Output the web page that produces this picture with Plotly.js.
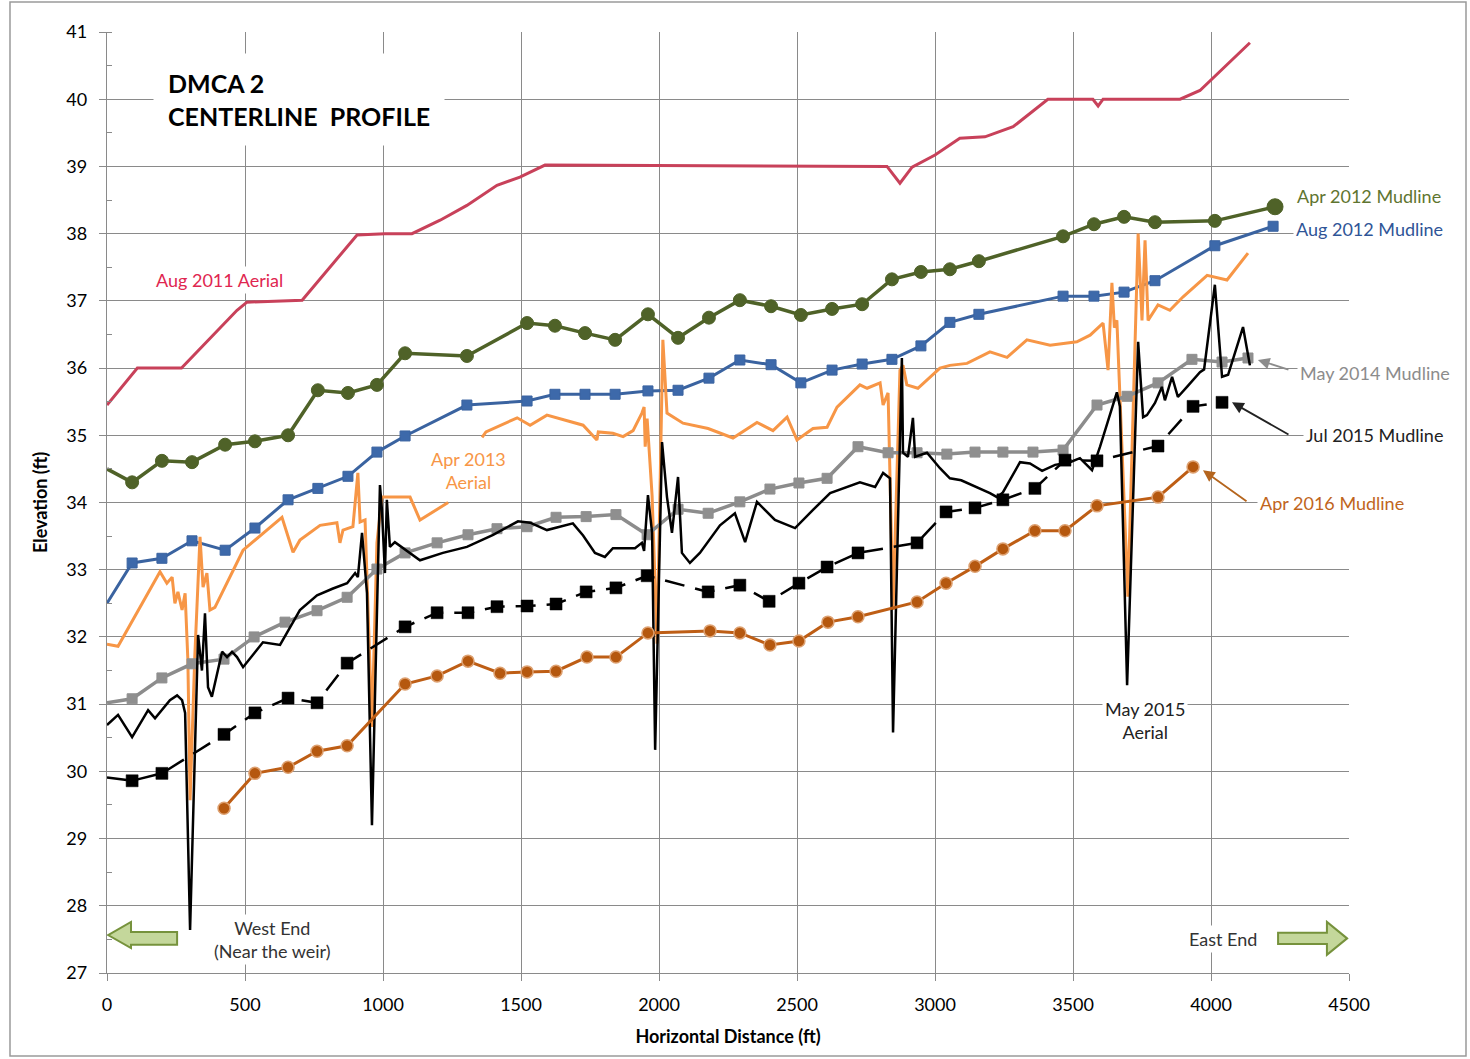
<!DOCTYPE html>
<html>
<head>
<meta charset="utf-8">
<script src="https://cdn.plot.ly/plotly-3.0.1.min.js"></script>
<style>html,body{margin:0;padding:0;background:#fff;}#chart{width:1470px;height:1059px;}</style>
</head>
<body>
<div id="chart"></div>
<script>
// ---------- DATA ----------
const aug2011X = [0, 110, 270, 471, 507, 707, 906, 1007, 1105, 1207, 1304, 1413, 1496, 1587, 2826, 2873, 2917, 3000, 3090, 3181, 3283, 3409, 3572, 3591, 3609, 3888, 3960, 4141];
const aug2011Y = [35.45, 36.0, 36.0, 36.86, 36.98, 37.01, 37.98, 38.0, 38.0, 38.2, 38.42, 38.72, 38.84, 39.02, 39.0, 38.75, 38.99, 39.17, 39.42, 39.44, 39.59, 40.0, 40.0, 39.9, 40.0, 40.0, 40.13, 40.84];

const apr2012X = [0, 91, 199, 308, 428, 536, 656, 764, 873, 978, 1080, 1304, 1522, 1623, 1732, 1841, 1960, 2069, 2181, 2293, 2406, 2514, 2627, 2736, 2844, 2949, 3054, 3159, 3464, 3576, 3685, 3797, 4014, 4232];
const apr2012Y = [34.5, 34.30, 34.62, 34.60, 34.86, 34.91, 35.0, 35.67, 35.63, 35.75, 36.22, 36.18, 36.67, 36.63, 36.52, 36.42, 36.80, 36.45, 36.75, 37.01, 36.92, 36.79, 36.88, 36.95, 37.32, 37.43, 37.47, 37.59, 37.96, 38.14, 38.25, 38.17, 38.19, 38.40];

const aug2012X = [0, 91, 199, 308, 428, 536, 656, 764, 873, 978, 1080, 1304, 1522, 1623, 1732, 1841, 1960, 2069, 2181, 2293, 2406, 2514, 2627, 2736, 2844, 2949, 3054, 3159, 3464, 3576, 3685, 3797, 4014, 4225];
const aug2012Y = [32.5, 33.10, 33.17, 33.43, 33.29, 33.62, 34.04, 34.21, 34.39, 34.75, 34.99, 35.45, 35.51, 35.61, 35.61, 35.61, 35.66, 35.67, 35.85, 36.12, 36.05, 35.78, 35.97, 36.06, 36.13, 36.33, 36.68, 36.80, 37.07, 37.07, 37.13, 37.30, 37.82, 38.11];

const apr2013X = [0, 40, 192, 217, 236, 246, 257, 272, 283, 293, 301, 318, 337, 348, 362, 373, 391, 493, 634, 674, 699, 772, 833, 844, 855, 891, 909, 917, 935, 960, 978, 996, 1098, 1134, 1236,
  null,
  1359, 1373, 1486, 1533, 1594, 1725, 1775, 1780, 1833, 1870, 1906, 1938, 1946, 1950, 1957, 1975, 1993, 2014, 2029, 2087, 2178, 2268, 2355, 2413, 2464, 2500, 2558, 2609, 2645, 2728, 2754, 2801, 2812, 2830, 2848, 2873, 2884, 2898, 2938, 2960, 3018, 3054, 3116, 3199, 3261, 3333, 3417, 3514, 3562, 3609, 3627, 3641, 3650, 3659, 3699, 3736, 3750, 3761, 3772, 3808, 3851, 3899, 3986, 4058, 4094, 4134];
const apr2013Y = [31.89, 31.86, 32.97, 32.80, 32.89, 32.50, 32.67, 32.40, 32.65, 31.66, 29.57, 31.70, 33.49, 32.74, 32.95, 32.40, 32.44, 33.29, 33.78, 33.26, 33.44, 33.66, 33.70, 33.40, 33.59, 33.64, 34.44, 33.71, 33.74, 30.66, 33.40, 34.08, 34.08, 33.74, 34.0,
  null,
  34.97, 35.05, 35.26, 35.15, 35.30, 35.15, 34.93, 35.05, 35.03, 34.98, 35.07, 35.33, 35.42, 34.83, 35.25, 34.10, 31.90, 36.42, 35.33, 35.18, 35.10, 34.96, 35.19, 35.07, 35.27, 34.93, 35.10, 35.12, 35.42, 35.75, 35.70, 35.78, 35.45, 35.63, 32.40, 35.97, 36.04, 35.75, 35.70, 35.78, 36.00, 36.04, 36.07, 36.24, 36.16, 36.42, 36.34, 36.39, 36.49, 36.67, 35.97, 37.27, 36.60, 36.71, 32.60, 38.0, 36.71, 37.90, 36.71, 36.94, 36.86, 37.06, 37.38, 37.31, 37.50, 37.71];

const may2014X = [0, 91, 199, 308, 424, 533, 645, 761, 870, 978, 1080, 1196, 1308, 1413, 1522, 1627, 1736, 1844, 1957, 2069, 2178, 2293, 2402, 2507, 2609, 2721, 2830, 2935, 3043, 3145, 3246, 3355, 3464, 3587, 3696, 3808, 3931, 4040, 4134];
const may2014Y = [31.02, 31.08, 31.39, 31.60, 31.67, 32.0, 32.22, 32.39, 32.59, 33.01, 33.25, 33.40, 33.52, 33.61, 33.64, 33.78, 33.79, 33.82, 33.52, 33.90, 33.84, 34.01, 34.20, 34.29, 34.36, 34.83, 34.74, 34.74, 34.72, 34.75, 34.75, 34.75, 34.78, 35.45, 35.58, 35.78, 36.13, 36.09, 36.15];

const may2015X = [0, 40, 91, 149, 174, 228, 254, 272, 283, 301, 330, 344, 355, 366, 380, 417, 435, 453, 471, 493, 565, 627, 699, 761, 819, 870, 899, 909, 924, 942, 960, 978, 989, 996, 1007, 1014, 1025, 1043, 1134, 1217, 1304, 1399, 1489, 1533, 1594, 1688, 1725, 1768, 1804, 1833, 1913, 1938, 1946, 1960, 1975, 1986, 2011, 2029, 2047, 2069, 2083, 2112, 2148, 2221, 2275, 2312, 2355, 2420, 2493, 2558, 2620, 2728, 2783, 2812, 2837, 2848, 2880, 2884, 2902, 2920, 2928, 2971, 3018, 3054, 3095, 3199, 3225, 3246, 3308, 3344, 3388, 3435, 3489, 3525, 3569, 3598, 3627, 3659, 3670, 3696, 3736, 3754, 3768, 3797, 3822, 3833, 3859, 3880, 3913, 3935, 3960, 3975, 4014, 4040, 4062, 4116, 4141];
const may2015Y = [30.69, 30.84, 30.51, 30.91, 30.79, 31.06, 31.13, 31.06, 30.87, 27.64, 32.03, 31.50, 32.35, 31.25, 31.11, 31.78, 31.70, 31.78, 31.70, 31.55, 31.92, 31.88, 32.40, 32.62, 32.72, 32.80, 32.95, 32.89, 33.55, 32.65, 29.20, 32.65, 34.26, 33.90, 32.95, 34.04, 33.34, 33.41, 33.14, 33.25, 33.34, 33.52, 33.72, 33.70, 33.59, 33.69, 33.51, 33.25, 33.19, 33.32, 33.32, 33.40, 33.28, 34.11, 33.55, 30.32, 34.90, 34.08, 33.55, 34.38, 33.25, 33.10, 33.25, 33.66, 33.84, 33.41, 34.01, 33.74, 33.62, 33.89, 34.14, 34.30, 34.23, 34.44, 34.36, 30.58, 36.15, 34.74, 34.68, 35.26, 34.68, 34.74, 34.51, 34.36, 34.33, 34.14, 34.08, 34.15, 34.60, 34.58, 34.47, 34.56, 34.60, 34.66, 34.48, 34.83, 35.23, 35.64, 35.43, 31.28, 36.39, 35.27, 35.30, 35.48, 35.72, 35.52, 35.87, 35.57, 35.72, 35.82, 35.94, 35.98, 37.24, 35.87, 35.90, 36.61, 36.04];

const jul2015X = [0, 91, 199, 424, 536, 656, 761, 870, 1080, 1196, 1308, 1413, 1522, 1627, 1736, 1844, 1957, 2178, 2293, 2399, 2507, 2609, 2721, 2935, 3040, 3145, 3246, 3362, 3471, 3587, 3808, 3935, 4040];
const jul2015Y = [29.91, 29.86, 29.97, 30.55, 30.87, 31.09, 31.02, 31.61, 32.15, 32.36, 32.36, 32.45, 32.46, 32.49, 32.67, 32.73, 32.91, 32.67, 32.77, 32.53, 32.80, 33.04, 33.25, 33.40, 33.86, 33.92, 34.04, 34.21, 34.63, 34.62, 34.84, 35.43, 35.49];

const apr2016X = [424, 536, 656, 761, 870, 1080, 1196, 1308, 1424, 1522, 1627, 1739, 1844, 1960, 2185, 2293, 2402, 2507, 2612, 2721, 2935, 3040, 3145, 3246, 3362, 3471, 3587, 3808, 3935];
const apr2016Y = [29.45, 29.97, 30.06, 30.30, 30.38, 31.30, 31.42, 31.64, 31.46, 31.48, 31.49, 31.70, 31.70, 32.06, 32.09, 32.06, 31.88, 31.94, 32.22, 32.30, 32.52, 32.80, 33.05, 33.31, 33.58, 33.58, 33.95, 34.08, 34.53];

const xTicks = [0, 500, 1000, 1500, 2000, 2500, 3000, 3500, 4000, 4500];
const yTicks = [27, 28, 29, 30, 31, 32, 33, 34, 35, 36, 37, 38, 39, 40, 41];

// ---------- STYLE / BUILD ----------
const FONT = 'Lato, Calibri, Carlito, "Open Sans", sans-serif';
const X_MAX = 4500, Y_MIN = 27, Y_MAX = 41;
function sizes(arr, s, firstHidden, lastSize) {
  return arr.map((_, i) => (firstHidden && i === 0) ? 0 : (lastSize && i === arr.length - 1 ? lastSize : s));
}

const traces = [
  { x: aug2011X, y: aug2011Y, mode: 'lines', line: { color: '#C8415A', width: 3 } },
  { x: apr2012X, y: apr2012Y, mode: 'lines+markers', line: { color: '#4F6228', width: 3.5 },
    marker: { symbol: 'circle', size: sizes(apr2012X, 13, true, 16), color: '#4F6228', opacity: 1, line: { color: '#4F6228', width: 1 } } },
  { x: aug2012X, y: aug2012Y, mode: 'lines+markers', line: { color: '#3A63A0', width: 3 },
    marker: { symbol: 'square', size: sizes(aug2012X, 10, true), color: '#3D69AA', opacity: 1, line: { color: '#3A63A0', width: 1 } } },
  { x: apr2013X, y: apr2013Y, mode: 'lines', connectgaps: false, line: { color: '#F79646', width: 3 } },
  { x: may2014X, y: may2014Y, mode: 'lines+markers', line: { color: '#8C8C8C', width: 3.5 },
    marker: { symbol: 'square', size: sizes(may2014X, 10, true), color: '#8F8F8F', opacity: 1, line: { color: '#8F8F8F', width: 1 } } },
  { x: may2015X, y: may2015Y, mode: 'lines', line: { color: '#000000', width: 2.5 } },
  { x: jul2015X, y: jul2015Y, mode: 'lines+markers', line: { color: '#000000', width: 2.5, dash: '20px,11px' },
    marker: { symbol: 'square', size: sizes(jul2015X, 12, true), color: '#000000', opacity: 1, line: { color: '#000', width: 0.5 } } },
  { x: apr2016X, y: apr2016Y, mode: 'lines+markers', line: { color: '#BE5E15', width: 3 },
    marker: { symbol: 'circle', size: 12, color: '#B5580F', opacity: 1, line: { color: '#DDA070', width: 1.5 } } }
];
traces.forEach(t => { t.showlegend = false; t.hoverinfo = 'skip'; });

// labels: data coords inside the axis range, paper coords when beyond it
const lbl = (text, x, y, color, extra) => {
  const outside = x > X_MAX;
  return Object.assign({
    text: text,
    x: outside ? x / X_MAX : x, y: outside ? (y - Y_MIN) / (Y_MAX - Y_MIN) : y,
    xref: outside ? 'paper' : 'x', yref: outside ? 'paper' : 'y', showarrow: false,
    xanchor: 'center', yanchor: 'middle',
    font: { family: FONT, size: 18, color: color }, bgcolor: '#ffffff', borderpad: 2
  }, extra || {});
};
const arr = (x, y, ax, ay, color) => ({
  text: '', x: x, y: y, xref: 'x', yref: 'y', ax: ax, ay: ay, showarrow: true,
  arrowhead: 2, arrowsize: 1.3, arrowwidth: 1.8, arrowcolor: color
});

const annotations = [
  lbl('<b>DMCA 2</b><br><b>CENTERLINE  PROFILE</b>', 167, 39.99, '#000000',
      { xanchor: 'left', align: 'left', font: { family: FONT, size: 25, color: '#000' }, borderpad: 14 }),
  lbl('Aug 2011 Aerial', 406, 37.31, '#DF2650'),
  lbl('Apr 2012 Mudline', 4572, 38.56, '#5F7530'),
  lbl('Aug 2012 Mudline', 4576, 38.07, '#2F5597'),
  lbl('Apr 2013<br>Aerial', 1308, 34.48, '#F79646', { align: 'center' }),
  lbl('May 2014 Mudline', 4594, 35.93, '#8C8C8C'),
  lbl('Jul 2015 Mudline', 4591, 35.0, '#222222'),
  lbl('Apr 2016 Mudline', 4438, 33.99, '#C0651C'),
  lbl('May 2015<br>Aerial', 3761, 30.76, '#222222', { align: 'center' }),
  lbl('West End<br>(Near the weir)', 601, 27.5, '#333333', { align: 'center' }),
  lbl('East End', 4043, 27.5, '#333333'),
  arr(4170, 36.12, 32, 10, '#8C8C8C'),
  arr(4076, 35.49, 58, 33, '#222222'),
  arr(3971, 34.48, 45, 32, '#B5651D')
];

const shapes = [
  { type: 'rect', xref: 'paper', yref: 'paper', x0: -0.0781, x1: 1.0942, y0: -0.0882, y1: 1.0319,
    line: { color: '#9a9a9a', width: 1.5 }, fillcolor: 'rgba(0,0,0,0)', layer: 'below' },
  { type: 'path', xref: 'x', yref: 'y', layer: 'above',
    path: 'M 4,27.565 L 87,27.76 L 87,27.61 L 254,27.61 L 254,27.42 L 87,27.42 L 87,27.37 Z',
    fillcolor: '#C4D79B', line: { color: '#76923C', width: 2 } },
  { type: 'path', xref: 'x', yref: 'y', layer: 'above',
    path: 'M 4493,27.515 L 4420,27.76 L 4420,27.6 L 4243,27.6 L 4243,27.43 L 4420,27.43 L 4420,27.27 Z',
    fillcolor: '#C4D79B', line: { color: '#76923C', width: 2 } }
];

const layout = {
  width: 1470, height: 1059,
  margin: { l: 107, r: 121, t: 32, b: 86 },
  paper_bgcolor: '#ffffff', plot_bgcolor: '#ffffff',
  font: { family: FONT, size: 18, color: '#000' },
  showlegend: false,
  xaxis: {
    range: [0, X_MAX], tickvals: xTicks, ticktext: xTicks.map(String),
    showgrid: true, gridcolor: '#8a8a8a', gridwidth: 1,
    showline: true, linecolor: '#8a8a8a', linewidth: 1.2, zeroline: false,
    ticks: 'outside', ticklen: 7, tickcolor: '#8a8a8a', ticklabelstandoff: 8,
    tickfont: { family: FONT, size: 18, color: '#000' },
    title: { text: '<b>Horizontal Distance (ft)</b>', font: { family: FONT, size: 18, color: '#000' }, standoff: 16 }
  },
  yaxis: {
    range: [Y_MIN, Y_MAX], tickvals: yTicks, ticktext: yTicks.map(String),
    showgrid: true, gridcolor: '#8a8a8a', gridwidth: 1,
    showline: true, linecolor: '#8a8a8a', linewidth: 1.2, zeroline: false,
    ticks: 'outside', ticklen: 7, tickcolor: '#8a8a8a', ticklabelstandoff: 8,
    minor: { dtick: 0.5, tick0: 27, ticks: 'inside', ticklen: 5, tickcolor: '#8a8a8a', showgrid: false },
    tickfont: { family: FONT, size: 18, color: '#000' },
    title: { text: '<b>Elevation (ft)</b>', font: { family: FONT, size: 18, color: '#000' }, standoff: 14 }
  },
  annotations: annotations,
  shapes: shapes
};

Plotly.newPlot('chart', traces, layout, { staticPlot: true, displayModeBar: false });
</script>
</body>
</html>
